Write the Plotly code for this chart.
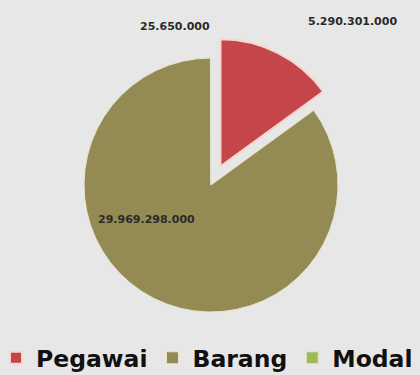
import plotly.graph_objects as go

categories = ["Pegawai", "Barang", "Modal"]
values = [5290301000, 29969298000, 25650000]
colors = ["#c4464b", "#948a54", "#9bbb59"]
pulls = [0.165, 0, 0]


def fmt(v):
    return f"{v:,}".replace(",", ".")


W, H = 420, 375
cx, cy, r = 211, 185, 127
half = r * (1 + max(pulls))

fig = go.Figure(go.Pie(
    labels=categories,
    values=values,
    marker=dict(colors=colors, line=dict(color=["#f6d6d0", "#e8e4cc", "#e8e4cc"], width=[2, 1, 1])),
    pull=pulls,
    sort=False,
    direction="clockwise",
    rotation=0,
    textinfo="none",
    hoverinfo="label+value",
    domain=dict(x=[(cx - half) / W, (cx + half) / W],
                y=[(H - cy - half) / H, (H - cy + half) / H]),
))

label_pos = {"Pegawai": (352, 21), "Barang": (146, 219), "Modal": (175, 27)}
for cat, v in zip(categories, values):
    px, py = label_pos[cat]
    fig.add_annotation(x=px / W, y=1 - py / H, xref="paper", yref="paper",
                       xanchor="center", yanchor="middle",
                       text=fmt(v), showarrow=False,
                       font=dict(family="DejaVu Sans", size=11, color="#2a2a2a", weight="bold"))

fig.update_layout(
    width=W, height=H,
    margin=dict(l=0, r=0, t=0, b=0, autoexpand=False),
    paper_bgcolor="#e7e7e7",
    plot_bgcolor="#e7e7e7",
    showlegend=True,
    legend=dict(orientation="h", x=-4 / W, xanchor="left", y=-5 / H, yanchor="bottom",
                font=dict(family="DejaVu Sans", size=23.5, color="#111111", weight="bold"),
                itemclick=False, bgcolor="rgba(0,0,0,0)"),
)

fig.write_html("out.html")
